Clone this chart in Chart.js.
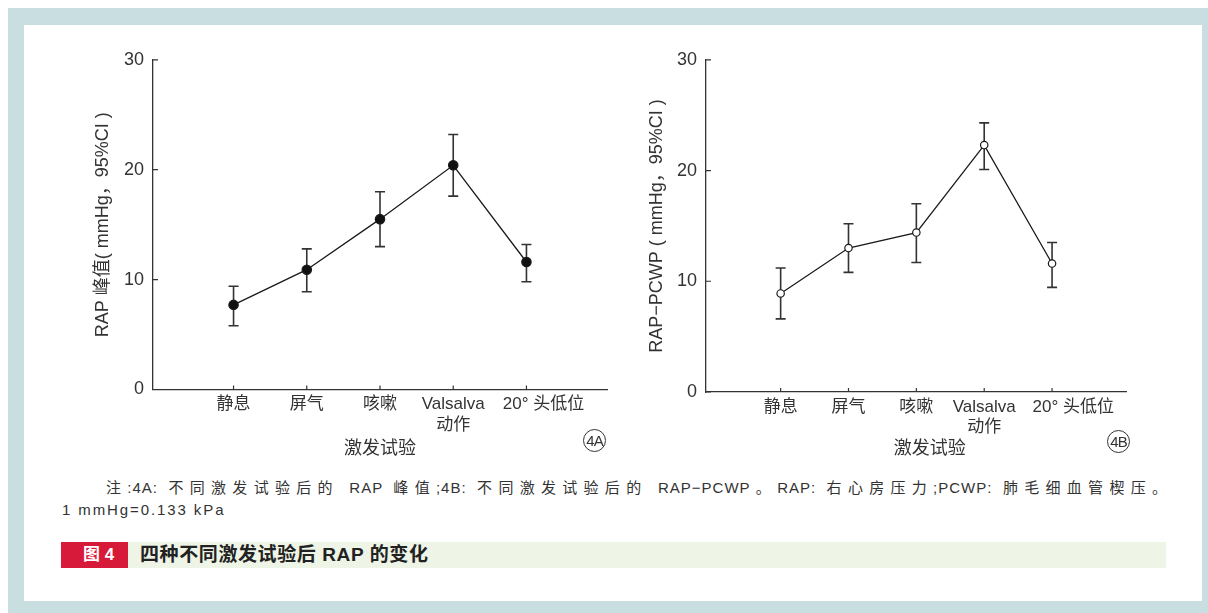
<!DOCTYPE html>
<html>
<head>
<meta charset="utf-8">
<script src="https://cdn.jsdelivr.net/npm/chart.js@4.4.0/dist/chart.umd.min.js"></script>
<style>
  body { margin: 0; width: 1208px; height: 613px; background: #fff; position: relative; overflow: hidden;
         font-family: "Liberation Sans", "Noto Sans CJK SC", sans-serif; color: #333; }
  #frame { position: absolute; left: 8px; top: 8px; width: 1200px; height: 605px; background: #c8dee1; }
  #inner { position: absolute; left: 24px; top: 25px; width: 1178px; height: 576px; background: #fff; }
  .chart { position: absolute; top: 40px; height: 420px; }
  #wrapA { left: 60px; width: 570px; }
  #wrapB { left: 612px; width: 540px; }
  .tag { position: absolute; width: 21px; height: 21px; border: 1px solid #333; border-radius: 50%;
         font-size: 15px; line-height: 21px; text-align: center; letter-spacing: -1px; color: #333; }
  .note { position: absolute; font-size: 15px; color: #333; letter-spacing: 1px; white-space: nowrap; }
  #note1 { left: 106px; top: 476px; width: 1062px; white-space: normal; text-align: justify; text-align-last: justify; }
  #note2 { left: 62px; top: 501px; letter-spacing: 1.9px; }
  #capRed { position: absolute; left: 61px; top: 542px; width: 67px; height: 26px; background: #d7193a;
            color: #fff; font-size: 17px; font-weight: bold; line-height: 26px; box-sizing: border-box; padding-left: 22px; }
  #capGreen { position: absolute; left: 128px; top: 542px; width: 1038px; height: 26px; background: #eef4e6;
              color: #222; font-size: 19px; font-weight: bold; line-height: 26px; box-sizing: border-box; padding-left: 12px;
              letter-spacing: 0.6px; }
</style>
</head>
<body>
<div id="frame"></div>
<div id="inner"></div>
<div class="chart" id="wrapA"><canvas id="chartA" width="570" height="420"></canvas></div>
<div class="chart" id="wrapB"><canvas id="chartB" width="540" height="420"></canvas></div>
<div class="tag" style="left:583px;top:429px;">4A</div>
<div class="tag" style="left:1107px;top:430px;">4B</div>
<div class="note" id="note1">注:4A: 不同激发试验后的 RAP 峰值;4B: 不同激发试验后的 RAP−PCWP。RAP: 右心房压力;PCWP: 肺毛细血管楔压。</div>
<div class="note" id="note2">1 mmHg=0.133 kPa</div>
<div id="capRed">图 4</div>
<div id="capGreen">四种不同激发试验后 RAP 的变化</div>
<script>
const categories = ["静息", "屏气", "咳嗽", ["Valsalva", "动作"], "20° 头低位"];
const yTicks = [0, 10, 20, 30];

// 4A: RAP peak, mean and 95% CI
const peakMean = [7.7, 10.9, 15.5, 20.4, 11.6];
const peakUpper = [9.4, 12.8, 18.0, 23.2, 13.2];
const peakLower = [5.8, 8.9, 13.0, 17.6, 9.8];

// 4B: RAP-PCWP, mean and 95% CI
const diffMean = [8.9, 13.0, 14.4, 22.3, 11.6];
const diffUpper = [11.2, 15.2, 17.0, 24.3, 13.5];
const diffLower = [6.6, 10.8, 11.7, 20.1, 9.45];

const FONT = '"Liberation Sans", "Noto Sans CJK SC", sans-serif';
const INK = "#333";

const errorBars = {
  id: "errorBars",
  beforeDatasetsDraw(chart) {
    const { ctx, scales: { x, y } } = chart;
    const ds = chart.data.datasets[0];
    ctx.save();
    ctx.strokeStyle = INK;
    ctx.lineWidth = 1.6;
    ds.upper.forEach((hi, i) => {
      const px = x.getPixelForValue(i + 1);
      const top = y.getPixelForValue(hi);
      const bot = y.getPixelForValue(ds.lower[i]);
      ctx.beginPath();
      ctx.moveTo(px, top); ctx.lineTo(px, bot);
      ctx.moveTo(px - 5, top); ctx.lineTo(px + 5, top);
      ctx.moveTo(px - 5, bot); ctx.lineTo(px + 5, bot);
      ctx.stroke();
    });
    ctx.restore();
  },
};

// tick marks point inward in the original
const innerTicks = {
  id: "innerTicks",
  afterDraw(chart) {
    const { ctx, chartArea, scales: { x, y } } = chart;
    ctx.save();
    ctx.strokeStyle = INK;
    ctx.lineWidth = 1.2;
    ctx.beginPath();
    y.ticks.forEach((t) => {
      const py = y.getPixelForValue(t.value);
      ctx.moveTo(chartArea.left, py); ctx.lineTo(chartArea.left + 5, py);
    });
    x.ticks.forEach((t) => {
      const px = x.getPixelForValue(t.value);
      ctx.moveTo(px, chartArea.bottom); ctx.lineTo(px, chartArea.bottom - 4);
    });
    ctx.stroke();
    ctx.restore();
  },
};

function makeChart(id, mean, upper, lower, o) {
  return new Chart(document.getElementById(id), {
    type: "line",
    data: {
      datasets: [{
        data: mean.map((v, i) => ({ x: i + 1, y: v })),
        upper: upper,
        lower: lower,
        borderColor: "#1a1a1a",
        borderWidth: 1.3,
        pointRadius: o.radius,
        pointBackgroundColor: o.fill,
        pointBorderColor: "#1a1a1a",
        pointBorderWidth: 1.2,
        tension: 0,
      }],
    },
    options: {
      responsive: false,
      animation: false,
      devicePixelRatio: 1,
      layout: { padding: { top: o.top, right: o.right, left: 0, bottom: 0 } },
      plugins: { legend: { display: false }, tooltip: { enabled: false } },
      scales: {
        x: {
          type: "linear", min: -0.1, max: 6.1,
          afterBuildTicks: (s) => { s.ticks = categories.map((c, i) => ({ value: i + 1 })); },
          afterFit: (s) => { s.height = o.xh; },
          grid: { drawOnChartArea: false, drawTicks: false },
          border: { color: INK, width: 1.3 },
          ticks: {
            padding: 5, color: INK, autoSkip: false, maxRotation: 0,
            font: { size: 17, family: FONT },
            callback: (v) => {
              const c = categories[v - 1];
              return v === 5 ? "\u2002".repeat(o.pad) + c : c;
            },
          },
          title: {
            display: true, text: "\u2002".repeat(o.tshift) + "激发试验", color: INK,
            font: { size: 18, family: FONT }, padding: { top: 0, bottom: 0 },
          },
        },
        y: {
          min: 0, max: 30,
          afterBuildTicks: (s) => { s.ticks = yTicks.map((v) => ({ value: v })); },
          afterFit: (s) => { s.width = o.yw; },
          grid: { drawOnChartArea: false, drawTicks: false },
          border: { color: INK, width: 1.3 },
          ticks: { padding: 9, color: INK, font: { size: 18, family: FONT } },
          title: { display: true, text: o.ytitle, color: INK, font: { size: 18, family: FONT }, padding: { top: o.tpad, bottom: 0 } },
        },
      },
    },
    plugins: [errorBars, innerTicks],
  });
}

makeChart("chartA", peakMean, peakUpper, peakLower, {
  radius: 4.7, fill: "#111", top: 16, right: 23, xh: 70.5, yw: 93, pad: 4, tpad: 32, tshift: 0,
  ytitle: "RAP 峰值( mmHg，95%CI )",
});
makeChart("chartB", diffMean, diffUpper, diffLower, {
  radius: 3.7, fill: "#fff", top: 17.5, right: 25.3, xh: 68, yw: 94, pad: 5, tpad: 34, tshift: 3,
  ytitle: "RAP−PCWP ( mmHg，95%CI )",
});
</script>
</body>
</html>
